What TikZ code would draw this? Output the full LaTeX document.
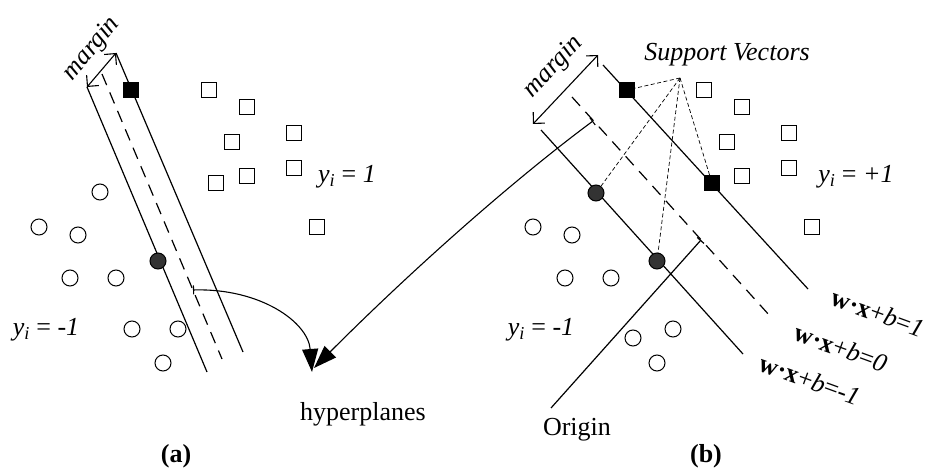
\documentclass[tikz,border=0pt]{standalone}
\usepackage{fontspec}
\setmainfont{Liberation Serif}
\usetikzlibrary{arrows.meta}
\begin{document}
\begin{tikzpicture}[x=1pt,y=-1pt,
  txt/.style={font=\fontsize{26}{30}\selectfont, inner sep=0pt},
  ittxt/.style={font=\fontsize{26}{30}\selectfont\itshape, inner sep=0pt},
  sq/.style={draw, line width=1pt, minimum size=15pt, inner sep=0pt},
  fsq/.style={sq, fill=black},
  ci/.style={draw, circle, line width=1pt, minimum size=16pt, inner sep=0pt},
  fci/.style={ci, fill=black!80},
  hyp/.style={line width=1.2pt},
  hypd/.style={hyp, dash pattern=on 12pt off 8pt},
  svl/.style={line width=0.7pt, dash pattern=on 4pt off 2.5pt},
  marr/.style={line width=1.1pt, {Straight Barb[length=8pt,width=16pt]}-{Straight Barb[length=8pt,width=16pt]}},
  bigarr/.style={line width=1.1pt, {Bar[width=9pt]}-{Triangle[length=23pt,width=16pt]}},
  eq/.style={txt, rotate=-20}
]
\useasboundingbox (0,0) rectangle (929,470);

% ---------- panel (a) ----------
\coordinate (aL1) at (87,87);   \coordinate (aL2) at (207,372);
\coordinate (aD1) at (102,74);  \coordinate (aD2) at (222,359);
\coordinate (aR1) at (116,53);  \coordinate (aR2) at (243,352);
\draw[hyp] (aL1) -- (aL2);
\draw[hypd] (aD1) -- (aD2);
\draw[hyp] (aR1) -- (aR2);
\draw[marr] (aL1) -- (aR1);
\node[ittxt, rotate=50] (amargin) at (92,49) {margin};

\node[fsq] (as0) at (131,90) {};
\node[sq] (as1) at (209,90) {};
\node[sq] (as2) at (247,107) {};
\node[sq] (as3) at (232,142) {};
\node[sq] (as4) at (294,133) {};
\node[sq] (as5) at (294,168) {};
\node[sq] (as6) at (247,176) {};
\node[sq] (as7) at (216,183) {};
\node[sq] (as8) at (317,227) {};

\node[fci] (ac0) at (158,261) {};
\node[ci] (ac1) at (100,192) {};
\node[ci] (ac2) at (39,227) {};
\node[ci] (ac3) at (78,235) {};
\node[ci] (ac4) at (70,278) {};
\node[ci] (ac5) at (116,278) {};
\node[ci] (ac6) at (132,329) {};
\node[ci] (ac7) at (178,329) {};
\node[ci] (ac8) at (163,363) {};

\node[txt] (aypos) at (347,177) {\textit{y}\textsubscript{\textit{i}} = \textit{1}};
\node[txt] (ayneg) at (46,330) {\textit{y}\textsubscript{\textit{i}} = \textit{-1}};
\node[txt] (alab) at (176,456) {\textbf{(a)}};

% ---------- centre ----------
\node[txt] (hyper) at (363,414) {hyperplanes};
\coordinate (a1s) at (193,290);
\coordinate (tip1) at (312,372);
\coordinate (b1s) at (593,121);
\coordinate (tip2) at (314,368);
\draw[bigarr] (a1s) .. controls (260,288) and (308,322) .. (tip1);
\draw[bigarr] (b1s) .. controls (520,175) and (420,262) .. (tip2);

% ---------- panel (b) ----------
\coordinate (bT1) at (603,65);  \coordinate (bT2) at (808,289);
\coordinate (bD1) at (572,97);  \coordinate (bD2) at (770,316);
\coordinate (bB1) at (541,130); \coordinate (bB2) at (743,354);
\draw[hyp] (bT1) -- (bT2);
\draw[hypd] (bD1) -- (bD2);
\draw[hyp] (bB1) -- (bB2);
\coordinate (bm1) at (533,124); \coordinate (bm2) at (598,55);
\draw[marr] (bm1) -- (bm2);
\node[ittxt, rotate=47] (bmargin) at (554,67) {margin};

\coordinate (orig) at (551,408);
\coordinate (foot) at (701,240);
\draw[hyp, -{Bar[width=9pt]}] (orig) -- (foot);
\node[txt] (origin) at (577,430) {Origin};

\node[fsq] (bs0) at (627,90) {};
\node[fsq] (bs9) at (712,183) {};
\node[sq] (bs1) at (704,90) {};
\node[sq] (bs2) at (742,107) {};
\node[sq] (bs3) at (727,142) {};
\node[sq] (bs4) at (789,133) {};
\node[sq] (bs5) at (789,168) {};
\node[sq] (bs6) at (742,176) {};
\node[sq] (bs7) at (812,227) {};

\node[fci] (bc0) at (596,193) {};
\node[fci] (bc9) at (657,261) {};
\node[ci] (bc1) at (533,227) {};
\node[ci] (bc2) at (572,235) {};
\node[ci] (bc3) at (565,278) {};
\node[ci] (bc4) at (611,278) {};
\node[ci] (bc5) at (633,338) {};
\node[ci] (bc6) at (673,329) {};
\node[ci] (bc7) at (657,363) {};

\node[ittxt] (sv) at (727,55) {Support Vectors};
\coordinate (apex) at (680,78);
\draw[svl] (apex) -- (bs0);
\draw[svl] (apex) -- (bc0);
\draw[svl] (apex) -- (bc9);
\draw[svl] (apex) -- (bs9);

\node[txt] (byneg) at (541,330) {\textit{y}\textsubscript{\textit{i}} = \textit{-1}};
\node[txt] (bypos) at (856,177) {\textit{y}\textsubscript{\textit{i}} = \textit{+1}};

\node[eq] (e1) at (878,313) {\textbf{w·x}+\textit{b}=\textit{1}};
\node[eq] (e0) at (841,348) {\textbf{w·x}+\textit{b}=\textit{0}};
\node[eq] (em) at (810,380) {\textbf{w·x}+\textit{b}=\textit{-1}};

\node[txt] (blab) at (706,456) {\textbf{(b)}};
\end{tikzpicture}
\end{document}
